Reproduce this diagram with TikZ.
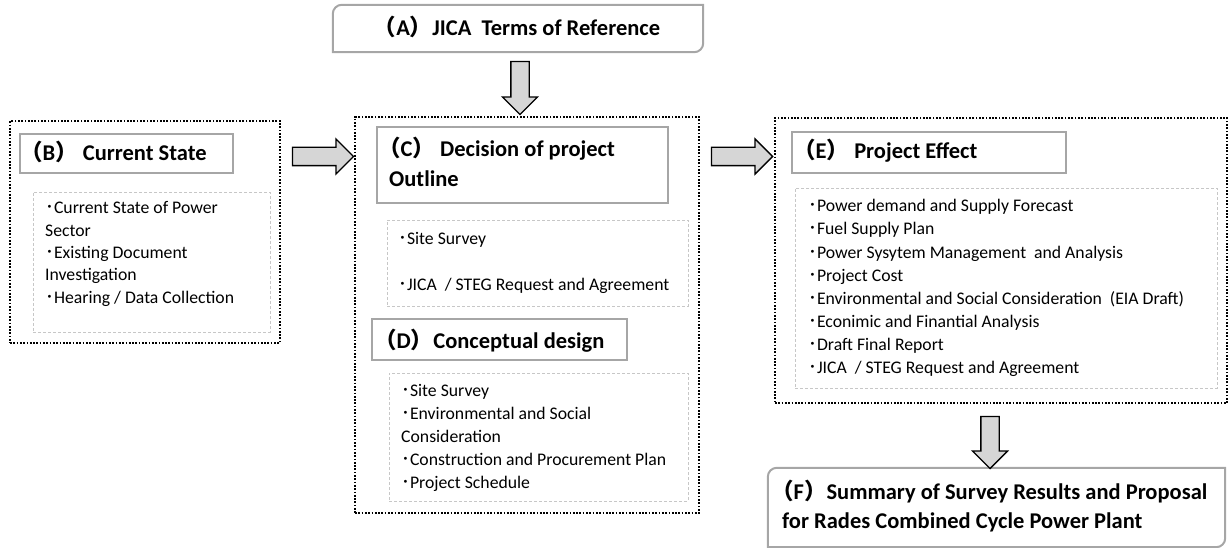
\documentclass[tikz,border=0pt]{standalone}
\usepackage{fontspec}
\setmainfont{Carlito}
\newfontfamily\cjk{Noto Sans CJK JP}
\usetikzlibrary{shapes.arrows,fit}
\newcommand\lp{{\cjk （}}
\newcommand\rp{{\cjk ）}}
\newcommand\bul{{\cjk ･}}
\tikzset{
  dotbox/.style={draw=black, line width=2.4pt, dash pattern=on 1.7pt off 1.6pt, inner sep=0pt},
  titlebox/.style={draw=black!35, line width=2pt, inner sep=0pt},
  itembox/.style={draw=black!22, line width=0.8pt, dash pattern=on 3pt off 2pt, inner sep=0pt},
  plainbox/.style={draw=none, inner sep=0pt},
  blockarrow/.style={single arrow, draw=black, line width=1.3pt, fill=black!16,
     single arrow head extend=8.5pt, single arrow head indent=0pt, inner xsep=0pt, inner ysep=8.5pt},
  itemtext/.style={font=\fontsize{17.7}{23}\selectfont, align=left, inner sep=0pt, anchor=base west},
  titletext/.style={font=\fontsize{22.5}{30}\selectfont\bfseries, align=left, inner sep=0pt, anchor=base west},
}
\begin{document}
\begin{tikzpicture}[x=1pt,y=-1pt]
\useasboundingbox (0,0) rectangle (1229,548);
% (A)
\node[plainbox, fit={(333,5)(703,52)}] (A) {};
\draw[titlebox] (A.south west) [rounded corners=9pt] -- (A.north west) [sharp corners] -- (A.north east) [rounded corners=9pt] -- (A.south east) [sharp corners] -- cycle;
\node[titletext, anchor=base] (At) at (517,36) {\lp A\rp JICA\ \ Terms of Reference};
% (B)
\node[dotbox, fit={(10,121)(280,343)}] (B) {};
\node[titlebox, fit={(20,134)(233,173)}] (Bh) {};
\node[titletext] (Bht) at (20,161) {\lp B\rp\ Current State};
\node[itembox, fit={(33,192)(270,332)}] (Bi) {};
\node[itemtext, font=\fontsize{17.7}{22.3}\selectfont] (Bit) at (45,303) {\bul Current State of Power\\Sector\\\bul Existing Document\\Investigation\\\bul Hearing / Data Collection};
% (C)
\node[dotbox, fit={(355,117)(699,513)}] (C) {};
\node[titlebox, fit={(377,127)(668,203)}] (Ch) {};
\node[titletext] (Cht) at (378,187) {\lp C\rp\ Decision of project\\\hspace*{11pt}Outline};
\node[itembox, fit={(387,220)(688,306)}] (Ci) {};
\node[itemtext] (Cit) at (398,290) {\bul Site Survey\\[23pt]\bul JICA\ \ / STEG Request and Agreement};
% (D)
\node[titlebox, fit={(372,319)(627,360)}] (Dh) {};
\node[titletext] (Dht) at (374,348) {\lp D\rp Conceptual design};
\node[itembox, fit={(389,373)(688,501)}] (Di) {};
\node[itemtext, font=\fontsize{17.7}{22.8}\selectfont] (Dit) at (401,488) {\bul Site Survey\\\bul Environmental and Social\\Consideration\\\bul Construction and Procurement Plan\\\bul Project Schedule};
% (E)
\node[dotbox, fit={(775,118)(1227,403)}] (E) {};
\node[titlebox, fit={(792,132)(1066,173)}] (Eh) {};
\node[titletext] (Eht) at (793,159) {\lp E\rp\ Project Effect};
\node[itembox, fit={(795,188)(1217,388)}] (Ei) {};
\node[itemtext, font=\fontsize{17.7}{23.1}\selectfont] (Eit) at (808,373.5) {\bul Power demand and Supply Forecast\\\bul Fuel Supply Plan\\\bul Power Sysytem Management\ \ and Analysis\\\bul Project Cost\\\bul Environmental and Social Consideration\ \ (EIA Draft)\\\bul Econimic and Finantial Analysis\\\bul Draft Final Report\\\bul JICA\ \ / STEG Request and Agreement};
% (F)
\node[plainbox, fit={(768,468)(1225,547)}] (F) {};
\draw[titlebox] (F.south west) [rounded corners=9pt] -- (F.north west) [sharp corners] -- (F.north east) [rounded corners=9pt] -- (F.south east) [sharp corners] -- cycle;
\node[titletext, font=\fontsize{22.5}{29}\selectfont\bfseries] (Ft) at (771,528) {\lp F\rp Summary of Survey Results and Proposal\\\hspace*{11pt}for Rades Combined Cycle Power Plant};
% arrows
\node[blockarrow, minimum height=53pt, rotate=-90] (AC) at (520,83.5) {};
\node[blockarrow, minimum height=61pt] (BC) at (318.5,156.5) {};
\node[blockarrow, minimum height=61pt] (CE) at (737.5,156.5) {};
\node[blockarrow, minimum height=52pt, rotate=-90] (EF) at (990,438) {};
\end{tikzpicture}
\end{document}
